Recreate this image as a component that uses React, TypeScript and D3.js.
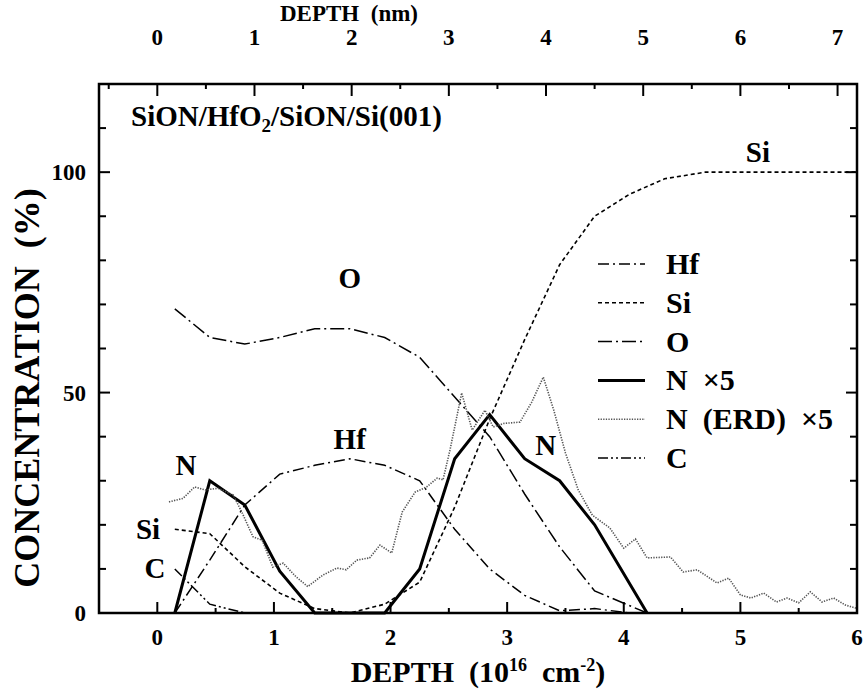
import React from 'react';
import * as d3 from 'd3';

// depth in 10^16 cm^-2, concentration in %
const hfDepth = [0.15, 0.45, 0.75, 1.05, 1.35, 1.65, 1.95, 2.25, 2.55, 2.85, 3.15, 3.45, 3.75, 4.05];
const hfConc = [0, 12, 24.5, 31.5, 33.5, 35, 33.5, 30, 19, 10, 4, 0.5, 1, 0];

const siDepth = [0.15, 0.45, 0.75, 1.05, 1.35, 1.65, 1.95, 2.25, 2.55, 2.85, 3.15, 3.45, 3.75, 4.05, 4.35, 4.7, 6];
const siConc = [19, 18, 10.5, 4.5, 1, 0, 2, 7, 24, 44, 62, 79, 90, 95, 98.5, 100, 100];

const oDepth = [0.15, 0.45, 0.75, 1.05, 1.35, 1.65, 1.95, 2.25, 2.55, 2.85, 3.15, 3.45, 3.75, 4.2];
const oConc = [69, 62.5, 61, 62.5, 64.5, 64.5, 62.5, 58, 49, 40, 27, 15, 5, 0];

const nDepth = [0.15, 0.45, 0.75, 1.05, 1.35, 1.65, 1.95, 2.25, 2.55, 2.85, 3.15, 3.45, 3.75, 4.2];
const nConc = [0, 30, 24.5, 9.5, 0, 0, 0, 10, 35, 45, 35, 30, 20, 0];

const erdDepth = [0.1, 0.22, 0.32, 0.41, 0.52, 0.65, 0.73, 0.82, 0.9, 0.99, 1.08, 1.19, 1.29, 1.42, 1.54, 1.62, 1.71, 1.82, 1.91, 2.01, 2.1, 2.21, 2.31, 2.4, 2.45, 2.51, 2.61, 2.7, 2.81, 2.88, 2.97, 3.11, 3.21, 3.31, 3.4, 3.5, 3.61, 3.73, 3.88, 4.0, 4.1, 4.2, 4.4, 4.51, 4.63, 4.8, 4.9, 5.0, 5.09, 5.2, 5.31, 5.4, 5.5, 5.6, 5.7, 5.8, 5.9, 5.99];
const erdConc = [25.2, 26, 28.6, 27.9, 28.3, 26.8, 22.6, 17.3, 16.5, 10.4, 11.3, 8.2, 6, 8.6, 10.2, 9.8, 12, 12.5, 15.4, 13.6, 22.9, 27.4, 28.6, 30.6, 30.2, 37, 49.9, 41.5, 46, 42.2, 43, 43.3, 47.8, 53.5, 46, 36.3, 27.9, 22.2, 19.3, 14.7, 16.8, 12.5, 12.7, 9.3, 9.8, 6.8, 7.9, 4.1, 3.4, 4.5, 2.5, 3.4, 2.3, 4.8, 2.5, 3.4, 1.8, 1.1];

const cDepth = [0.15, 0.45, 0.75, 1.05];
const cConc = [10, 2, 0, 0];

const bottomTicks = [0, 1, 2, 3, 4, 5, 6];
const topTicks = [0, 1, 2, 3, 4, 5, 6, 7];
const yLabels = [0, 50, 100];

const txt: React.CSSProperties = {
  fontFamily: '"Liberation Serif", "Times New Roman", serif',
  fontWeight: 'bold',
  whiteSpace: 'pre',
};

export default function App() {
  const W = 865;
  const H = 691;
  const x = d3.scaleLinear().domain([-0.5, 6]).range([99, 857]);
  const xTop = d3.scaleLinear().domain([-0.6, 7.2]).range([99, 857]);
  const y = d3.scaleLinear().domain([0, 120]).range([613, 84]);

  const line = d3.line<[number, number]>().x(d => x(d[0])).y(d => y(d[1]));
  const mk = (ds: number[], vs: number[]) => line(ds.map((d, i) => [d, vs[i]] as [number, number])) || '';

  const series = [
    { name: 'Hf', d: mk(hfDepth, hfConc), dash: '11,4,2,4', w: 1.5, color: '#000' },
    { name: 'Si', d: mk(siDepth, siConc), dash: '4,3', w: 1.6, color: '#000' },
    { name: 'O', d: mk(oDepth, oConc), dash: '14,4,2,4', w: 1.5, color: '#000' },
    { name: 'N  \u00d75', d: mk(nDepth, nConc), dash: undefined, w: 3, color: '#000' },
    { name: 'N  (ERD)  \u00d75', d: mk(erdDepth, erdConc), dash: '1.3,1.3', w: 1.6, color: '#555' },
    { name: 'C', d: mk(cDepth, cConc), dash: '10,3,2,3,2,3', w: 1.5, color: '#000' },
  ];

  const minorBottom = d3.range(-0.5, 6.01, 0.5).filter(v => !Number.isInteger(v));
  const minorTop = d3.range(-0.5, 7.21, 0.5).filter(v => !Number.isInteger(v));
  const yTicks = d3.range(10, 120, 10);

  const annotations = [
    { t: 'Si', dx: 5.15, v: 104.5 },
    { t: 'O', dx: 1.65, v: 76 },
    { t: 'Hf', dx: 1.65, v: 39.5 },
    { t: 'N', dx: 0.245, v: 33.5 },
    { t: 'N', dx: 3.33, v: 38 },
    { t: 'Si', dx: -0.08, v: 19 },
    { t: 'C', dx: -0.02, v: 10.2 },
  ];

  return (
    <svg width={W} height={H} style={{ position: 'absolute', left: 0, top: 0, background: '#fff' }}>
      {/* curves */}
      {series.map(s => (
        <path key={s.name} d={s.d} fill="none" stroke={s.color} strokeWidth={s.w}
          strokeDasharray={s.dash} strokeLinejoin="miter" />
      ))}

      {/* frame */}
      <rect x={99} y={84} width={758} height={529} fill="none" stroke="#000" strokeWidth={2.5} />

      {/* bottom ticks */}
      {bottomTicks.map(t => (
        <line key={'b' + t} x1={x(t)} x2={x(t)} y1={613} y2={602} stroke="#000" strokeWidth={2} />
      ))}
      {minorBottom.map(t => (
        <line key={'bm' + t} x1={x(t)} x2={x(t)} y1={613} y2={608} stroke="#000" strokeWidth={2} />
      ))}
      {bottomTicks.map(t => (
        <text key={'bl' + t} x={x(t)} y={645} textAnchor="middle" fontSize={23} style={txt}>{t}</text>
      ))}

      {/* top ticks */}
      {topTicks.map(t => (
        <line key={'t' + t} x1={xTop(t)} x2={xTop(t)} y1={84} y2={96} stroke="#000" strokeWidth={2} />
      ))}
      {minorTop.map(t => (
        <line key={'tm' + t} x1={xTop(t)} x2={xTop(t)} y1={84} y2={89} stroke="#000" strokeWidth={2} />
      ))}
      {topTicks.map(t => (
        <text key={'tl' + t} x={xTop(t)} y={45} textAnchor="middle" fontSize={23} style={txt}>{t}</text>
      ))}

      {/* left/right ticks */}
      {yTicks.map(t => (
        <g key={'y' + t}>
          <line x1={99} x2={t % 50 === 0 ? 110 : 106} y1={y(t)} y2={y(t)} stroke="#000" strokeWidth={2} />
          <line x1={857} x2={t % 50 === 0 ? 846 : 850} y1={y(t)} y2={y(t)} stroke="#000" strokeWidth={2} />
        </g>
      ))}
      {yLabels.map(t => (
        <text key={'yl' + t} x={86} y={y(t) + 8} textAnchor="end" fontSize={23} style={txt}>{t}</text>
      ))}

      {/* axis titles */}
      <text x={349} y={21} textAnchor="middle" fontSize={23} style={txt}>DEPTH  (nm)</text>
      <text x={478} y={682} textAnchor="middle" fontSize={30} style={txt}>
        DEPTH  (10<tspan dy={-11} fontSize={18}>16</tspan><tspan dy={11}>  cm</tspan>
        <tspan dy={-11} fontSize={18}>-2</tspan><tspan dy={11}>)</tspan>
      </text>
      <text transform="translate(39,388) rotate(-90)" textAnchor="middle" fontSize={36}
        style={txt}>CONCENTRATION  (%)</text>

      {/* sample label */}
      <text x={131} y={126} fontSize={29} style={txt}>
        SiON/HfO<tspan dy={6} fontSize={19}>2</tspan><tspan dy={-6}>/SiON/Si(001)</tspan>
      </text>

      {/* curve annotations */}
      {annotations.map((a, i) => (
        <text key={'a' + i} x={x(a.dx)} y={y(a.v) + 10} textAnchor="middle" fontSize={29} style={txt}>{a.t}</text>
      ))}

      {/* legend */}
      {series.map((s, i) => {
        const ly = 264 + i * 38.8;
        return (
          <g key={'lg' + i}>
            <line x1={598} x2={645} y1={ly} y2={ly} stroke={s.color} strokeWidth={s.w}
              strokeDasharray={s.dash} />
            <text x={666} y={ly + 10} fontSize={30} style={txt}>{s.name}</text>
          </g>
        );
      })}
    </svg>
  );
}
